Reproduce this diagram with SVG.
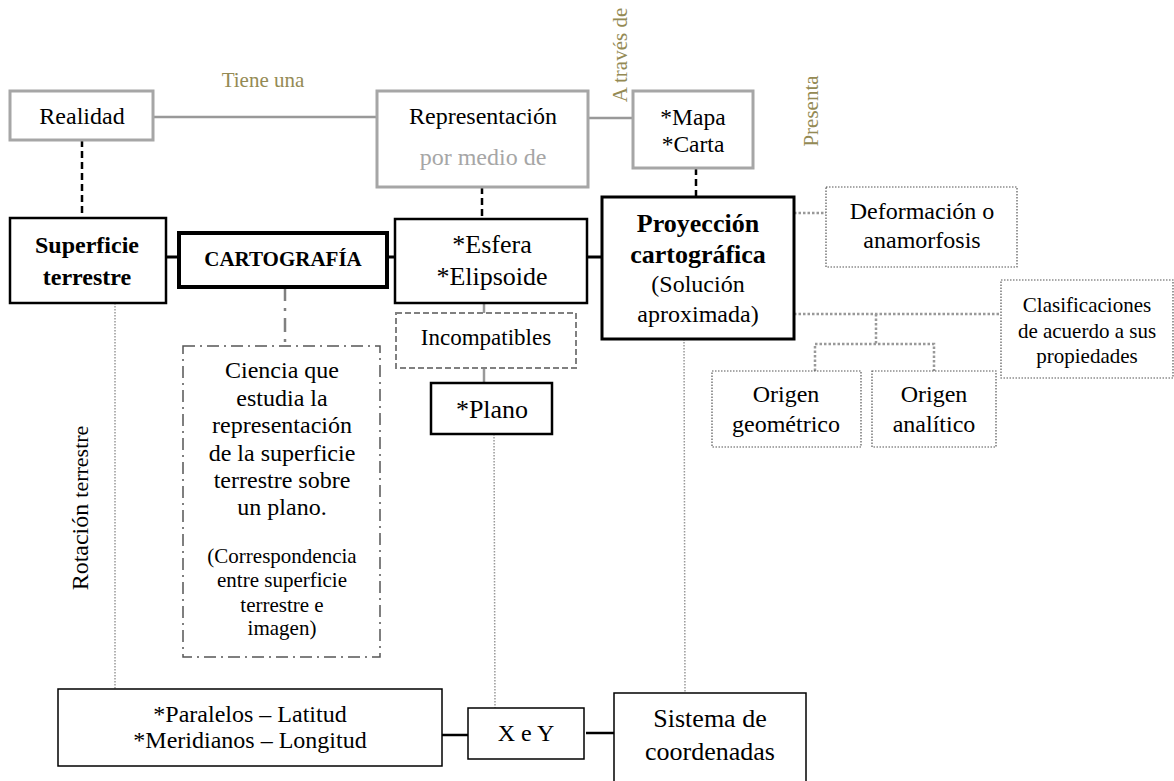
<svg xmlns="http://www.w3.org/2000/svg" width="1174" height="781" viewBox="0 0 1174 781">
  <style>
    text { font-family: "Liberation Serif", "Times New Roman", serif; fill: #000; text-anchor: middle; }
    .b { font-weight: bold; }
    .lbl { fill: #948a54; font-size: 21px; }
    .gbox { fill: #fff; stroke: #a6a6a6; stroke-width: 3; }
    .kbox { fill: #fff; stroke: #000; stroke-width: 2.5; }
    .thin { fill: #fff; stroke: #000; stroke-width: 1.5; }
    .dot { fill: #fff; stroke: #555; stroke-width: 1.2; stroke-dasharray: 1.5 1.5; }
    .dash { fill: #fff; stroke: #808080; stroke-width: 2; stroke-dasharray: 6 3; }
    .dashdot { fill: #fff; stroke: #555; stroke-width: 1.5; stroke-dasharray: 12 5 2 5; }
    .c-gray { stroke: #999; stroke-width: 2.5; fill: none; }
    .c-kdash { stroke: #000; stroke-width: 2.5; stroke-dasharray: 7 4; fill: none; }
    .c-k { stroke: #000; stroke-width: 3; fill: none; }
    .c-dot { stroke: #999; stroke-width: 1.5; stroke-dasharray: 1.5 1.5; fill: none; }
    .c-dot2 { stroke: #999; stroke-width: 2.5; stroke-dasharray: 2.5 2; fill: none; }
    .c-dashdot { stroke: #808080; stroke-width: 2.5; stroke-dasharray: 14 7 3 7; fill: none; }
  </style>

  <!-- connectors -->
  <g id="connectors">
    <line class="c-gray" x1="153" y1="117" x2="377" y2="117"/>
    <line class="c-gray" x1="588" y1="118" x2="633" y2="118"/>
    <line class="c-kdash" x1="82" y1="140" x2="82" y2="218"/>
    <line class="c-kdash" x1="482" y1="187" x2="482" y2="219"/>
    <line class="c-kdash" x1="696" y1="168" x2="696" y2="197"/>
    <line class="c-k" x1="166" y1="257" x2="179" y2="257"/>
    <line class="c-k" x1="387" y1="257" x2="395" y2="257"/>
    <line class="c-k" x1="587" y1="257" x2="602" y2="257"/>
    <line class="c-dot2" x1="794" y1="213" x2="826" y2="213"/>
    <line class="c-dot2" x1="794" y1="314" x2="1001" y2="314"/>
    <polyline class="c-dot2" points="876,314 876,344"/>
    <polyline class="c-dot2" points="815,371 815,344 934,344 934,371"/>
    <line class="c-gray" x1="484" y1="303" x2="484" y2="313"/>
    <line class="c-gray" x1="484" y1="368" x2="484" y2="383"/>
    <line class="c-dashdot" x1="285" y1="287" x2="285" y2="346"/>
    <line class="c-dot" x1="115" y1="303" x2="115" y2="689"/>
    <line class="c-dot" x1="494" y1="434" x2="495" y2="708"/>
    <line class="c-dot" x1="684" y1="339" x2="685" y2="693"/>
    <line class="c-k" x1="442" y1="735" x2="468" y2="735" style="stroke-width:2.5"/>
    <line class="c-k" x1="586" y1="733" x2="614" y2="733" style="stroke-width:2.5"/>
  </g>

  <!-- edge labels -->
  <g id="labels">
    <text class="lbl" x="263" y="87">Tiene una</text>
    <text class="lbl" transform="translate(627,55) rotate(-90)">A través de</text>
    <text class="lbl" transform="translate(818,111) rotate(-90)">Presenta</text>
    <text transform="translate(88,508) rotate(-90)"><tspan font-size="24">Rotación</tspan><tspan font-size="22" dx="6">terrestre</tspan></text>
  </g>

  <g id="realidad">
    <rect class="gbox" x="10" y="91" width="143" height="49"/>
    <text x="82" y="124" font-size="24">Realidad</text>
  </g>

  <g id="representacion">
    <rect class="gbox" x="377" y="91" width="211" height="96"/>
    <text x="483" y="124" font-size="24">Representación</text>
    <text x="483" y="165" font-size="24" style="fill:#a6a6a6">por medio de</text>
  </g>

  <g id="mapa">
    <rect class="gbox" x="633" y="91" width="120" height="77"/>
    <text x="693" y="125" font-size="23.5">*Mapa</text>
    <text x="693" y="152" font-size="23.5">*Carta</text>
  </g>

  <g id="superficie">
    <rect class="kbox" x="10" y="218" width="156" height="85"/>
    <text class="b" x="87" y="253" font-size="24">Superficie</text>
    <text class="b" x="87" y="285" font-size="24">terrestre</text>
  </g>

  <g id="cartografia">
    <rect class="kbox" x="179" y="233" width="208" height="54" style="stroke-width:4"/>
    <text class="b" x="283" y="266" font-size="21">CARTOGRAFÍA</text>
  </g>

  <g id="esfera">
    <rect class="kbox" x="395" y="219" width="192" height="84"/>
    <text x="492" y="253" font-size="26">*Esfera</text>
    <text x="492" y="285" font-size="26">*Elipsoide</text>
  </g>

  <g id="proyeccion">
    <rect class="kbox" x="602" y="197" width="192" height="142" style="stroke-width:3"/>
    <text class="b" x="698" y="232" font-size="26">Proyección</text>
    <text class="b" x="698" y="263" font-size="26">cartográfica</text>
    <text x="698" y="292" font-size="24">(Solución</text>
    <text x="698" y="322" font-size="24">aproximada)</text>
  </g>

  <g id="deformacion">
    <rect class="dot" x="826" y="187" width="191" height="80"/>
    <text x="922" y="219" font-size="24">Deformación o</text>
    <text x="922" y="248" font-size="24">anamorfosis</text>
  </g>

  <g id="clasificaciones">
    <rect class="dot" x="1001" y="280" width="172" height="98"/>
    <text x="1087" y="312" font-size="21">Clasificaciones</text>
    <text x="1087" y="338" font-size="21">de acuerdo a sus</text>
    <text x="1087" y="363" font-size="21">propiedades</text>
  </g>

  <g id="origen-geometrico">
    <rect class="dot" x="712" y="371" width="149" height="76"/>
    <text x="786" y="402" font-size="24">Origen</text>
    <text x="786" y="432" font-size="24">geométrico</text>
  </g>

  <g id="origen-analitico">
    <rect class="dot" x="872" y="371" width="124" height="76"/>
    <text x="934" y="402" font-size="24">Origen</text>
    <text x="934" y="432" font-size="24">analítico</text>
  </g>

  <g id="incompatibles">
    <rect class="dash" x="396" y="313" width="180" height="55"/>
    <text x="486" y="345" font-size="23">Incompatibles</text>
  </g>

  <g id="plano">
    <rect class="kbox" x="431" y="383" width="121" height="51"/>
    <text x="492" y="418" font-size="26">*Plano</text>
  </g>

  <g id="ciencia">
    <rect class="dashdot" x="183" y="346" width="197" height="311"/>
    <text x="282" y="378" font-size="24">Ciencia que</text>
    <text x="282" y="406" font-size="24">estudia la</text>
    <text x="282" y="433" font-size="24">representación</text>
    <text x="282" y="461" font-size="24">de la superficie</text>
    <text x="282" y="488" font-size="24">terrestre sobre</text>
    <text x="282" y="515" font-size="24">un plano.</text>
    <text x="282" y="563" font-size="21">(Correspondencia</text>
    <text x="282" y="587" font-size="21">entre superficie</text>
    <text x="282" y="612" font-size="21">terrestre e</text>
    <text x="282" y="635" font-size="21">imagen)</text>
  </g>

  <g id="paralelos">
    <rect class="thin" x="58" y="689" width="384" height="77"/>
    <text x="250" y="722" font-size="24">*Paralelos – Latitud</text>
    <text x="250" y="748" font-size="24">*Meridianos – Longitud</text>
  </g>

  <g id="xey">
    <rect class="thin" x="468" y="708" width="116" height="51"/>
    <text x="526" y="741" font-size="24">X e Y</text>
  </g>

  <g id="sistema">
    <rect class="thin" x="614" y="693" width="192" height="100"/>
    <text x="710" y="727" font-size="26">Sistema de</text>
    <text x="710" y="760" font-size="26">coordenadas</text>
  </g>
</svg>
